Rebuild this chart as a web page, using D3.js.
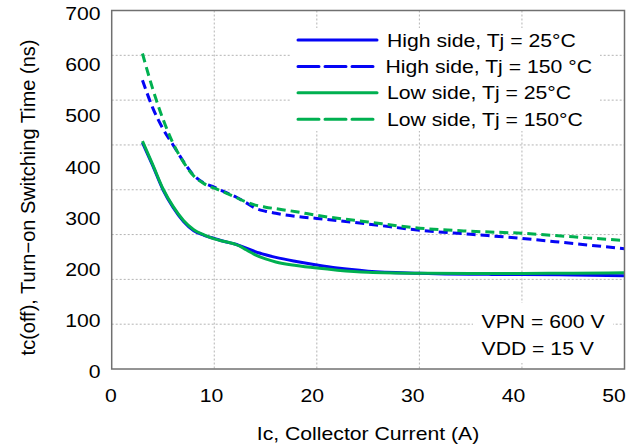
<!DOCTYPE html>
<html>
<head>
<meta charset="utf-8">
<script src="https://cdn.jsdelivr.net/npm/d3@7"></script>
<style>
  html, body { margin: 0; padding: 0; background: #fff; }
  svg { display: block; }
  text { font-family: "Liberation Sans", Arial, Helvetica, sans-serif; fill: #000; }
</style>
</head>
<body>
<svg id="chart" width="637" height="445"></svg>
<script>
// ---- data ----
const xTicks = [0, 10, 20, 30, 40, 50];
const yTicks = [0, 100, 200, 300, 400, 500, 600, 700];

const hs25X = [3, 4, 5, 6, 7, 8, 9, 10, 11, 12, 13, 14, 15, 16, 18, 20, 22, 25, 30, 35, 40, 45, 50];
const hs25Y = [442, 397, 350, 315, 288, 270, 261, 255, 249, 244, 237, 229, 223, 218, 210, 203, 197, 191, 187, 185, 184.5, 183.5, 182];

const hs150X = [3, 4, 5, 6, 7, 8, 9, 10, 11, 12, 13, 14, 15, 16, 18, 20, 25, 30, 35, 40, 45, 50];
const hs150Y = [564, 510, 469, 437, 405, 378, 363, 355, 346, 337, 326, 314, 308, 304, 298, 294, 283, 271, 263, 255, 245, 235];

const ls25X = [3, 4, 5, 6, 7, 8, 9, 10, 11, 12, 12.5, 13, 14, 15, 16, 18, 20, 22, 25, 30, 35, 40, 45, 50];
const ls25Y = [445, 399, 352, 317, 290, 272, 262, 254, 249, 244, 240, 234, 223, 215, 209, 202, 197, 193, 189, 187, 186.5, 186.7, 187, 188];

const ls150X = [3, 4, 5, 6, 7, 8, 9, 10, 11, 12, 13, 14, 15, 16, 18, 20, 25, 30, 35, 40, 45, 50];
const ls150Y = [616, 547, 488, 440, 404, 377, 362, 353, 345, 336, 327, 320, 316, 313, 307, 300, 287, 275, 269, 265, 258, 251];

const seriesNames = ["High side, Tj = 25\u00B0C", "High side, Tj = 150 \u00B0C", "Low side, Tj = 25\u00B0C", "Low side, Tj = 150\u00B0C"];
const seriesColors = ["#0505f5", "#0505f5", "#00b050", "#00b050"];
const seriesDashed = [false, true, false, true];

const xTitle = "Ic, Collector Current (A)";
const yTitle = "tc(off), Turn\u2212on Switching Time (ns)";
const notes = ["VPN = 600 V", "VDD = 15 V"];

// ---- drawing ----
const svg = d3.select("#chart");
const L = 111.7, R = 624.5, T = 10.5, B = 369;
const FS = 20;
const STRETCH = "scale(1.06,0.94)";

const x = d3.scaleLinear().domain([0, 50]).range([L, R]);
const xLab = d3.scaleLinear().domain([0, 50]).range([111, 614]);
const y = d3.scaleLinear().domain([0, 700]).range([B, T]);
const gridY = d3.scaleLinear().domain([0, 8]).range([B, T]);

// helper for horizontally written text (slightly wide, short glyphs like the reference)
function hText(px, py, str, anchor) {
  return svg.append("text")
    .attr("transform", `translate(${px},${py}) ${STRETCH}`)
    .attr("dy", "0.35em").attr("font-size", FS)
    .attr("text-anchor", anchor || "start")
    .text(str);
}

// grid
const grid = svg.append("g").attr("stroke", "#b4b4b4").attr("stroke-width", 1).attr("stroke-dasharray", "2,2");
grid.selectAll("line.v").data(xTicks.slice(1, -1)).join("line")
  .attr("x1", d => x(d)).attr("x2", d => x(d)).attr("y1", T).attr("y2", B);
grid.selectAll("line.h").data(d3.range(1, 8)).join("line")
  .attr("x1", L).attr("x2", R).attr("y1", d => gridY(d)).attr("y2", d => gridY(d));

// series
const series = [
  {xs: hs25X, ys: hs25Y}, {xs: hs150X, ys: hs150Y},
  {xs: ls25X, ys: ls25Y}, {xs: ls150X, ys: ls150Y}
];
const line = d3.line().x(d => x(d[0])).y(d => y(d[1])).curve(d3.curveMonotoneX);
const order = [1, 0, 3, 2];
order.forEach(i => {
  const s = series[i];
  svg.append("path")
    .datum(s.xs.map((v, k) => [v, s.ys[k]]))
    .attr("fill", "none")
    .attr("stroke", seriesColors[i])
    .attr("stroke-width", 3)
    .attr("stroke-dasharray", seriesDashed[i] ? "9,5" : null)
    .attr("d", line);
});

// legend box
svg.append("rect").attr("x", 290).attr("y", 28).attr("width", 310).attr("height", 103).attr("fill", "#fff");
const legRowY = i => 40 + i * 26.4;
seriesNames.forEach((name, i) => {
  svg.append("line")
    .attr("x1", 298).attr("x2", 377).attr("y1", legRowY(i)).attr("y2", legRowY(i))
    .attr("stroke", seriesColors[i]).attr("stroke-width", 3)
    .attr("stroke-linecap", "round")
    .attr("stroke-dasharray", seriesDashed[i] ? "21,6" : null);
  hText(i === 1 ? 385.5 : 387, legRowY(i), name);
});

// note box
svg.append("rect").attr("x", 473).attr("y", 303).attr("width", 140).attr("height", 60).attr("fill", "#fff");
notes.forEach((t, i) => hText(481.5, 321.7 + i * 26.5, t));

// frame
svg.append("rect").attr("x", L).attr("y", T).attr("width", R - L).attr("height", B - T)
  .attr("fill", "none").attr("stroke", "#707070").attr("stroke-width", 1.5);

// tick labels
xTicks.forEach(d => hText(xLab(d), 395, d, "middle"));
yTicks.forEach(d => hText(100.5, y(d) + 2.8, d, "end"));

// titles
hText(368, 433, xTitle, "middle");
svg.append("text").attr("transform", "translate(35,197.5) rotate(-90)")
  .attr("text-anchor", "middle").attr("font-size", FS).text(yTitle);
</script>
</body>
</html>
